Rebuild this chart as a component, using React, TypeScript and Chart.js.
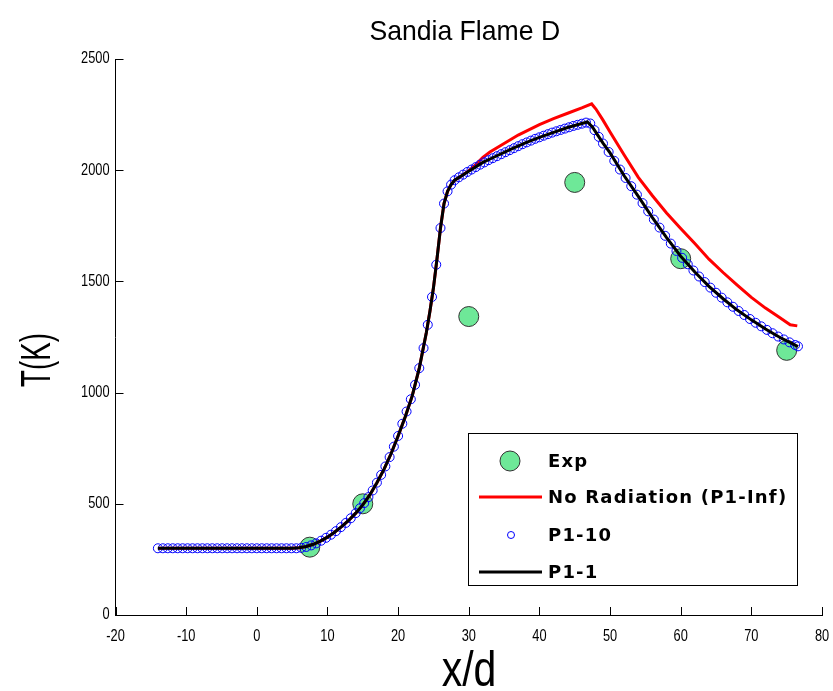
import React, { useEffect, useRef } from 'react';
import { Chart, registerables } from 'chart.js';

Chart.register(...registerables);

const titleText = 'Sandia Flame D';
const xLabel = 'x/d';
const yLabel = 'T(K)';

const xTickValues = [-20, -10, 0, 10, 20, 30, 40, 50, 60, 70, 80];
const yTickValues = [0, 500, 1000, 1500, 2000, 2500];

const legendLabels = ['Exp', 'No Radiation (P1-Inf)', 'P1-10', 'P1-1'];

// Experimental data
const expX = [7.5, 15, 30, 45, 60, 75];
const expT = [305, 500, 1342, 1945, 1602, 1190];

// No radiation (P1-Inf)
const noRadX = [-14, -10, -5, 0, 5, 6, 7, 8, 9, 10, 11, 12, 13, 14, 15, 16, 17, 18, 19, 20, 21, 22, 23, 24, 24.5, 25, 25.5, 26, 26.5, 27, 27.5, 28, 29, 30, 31, 32, 33, 35, 37, 40, 42, 44, 46, 47.4, 48, 49, 50, 52, 54, 56, 58, 60, 62, 64, 66, 68, 70, 72, 74, 75.5, 76.5];
const noRadT = [300, 300, 300, 300, 300, 302, 308, 318, 332, 350, 372, 397, 425, 458, 495, 540, 595, 655, 725, 805, 890, 985, 1110, 1270, 1365, 1470, 1600, 1740, 1850, 1905, 1935, 1955, 1975, 1998, 2025, 2058, 2082, 2120, 2158, 2205, 2232, 2256, 2280, 2298, 2275, 2225, 2172, 2068, 1968, 1885, 1808, 1738, 1670, 1600, 1540, 1483, 1428, 1380, 1338, 1305, 1300];

// P1-10 (markers)
const p110X = [-14, -13.3, -12.6, -11.9, -11.2, -10.5, -9.8, -9.1, -8.4, -7.7, -7, -6.3, -5.6, -4.9, -4.2, -3.5, -2.8, -2.1, -1.4, -0.7, 0, 0.7, 1.4, 2.1, 2.8, 3.5, 4.2, 4.9, 5.6,
  6.3, 7, 7.7, 8.4, 9.1, 9.8, 10.5, 11.2, 11.9, 12.6, 13.3, 14, 14.6, 15.2, 15.8, 16.4, 17, 17.6, 18.2, 18.8, 19.4, 20, 20.6, 21.2, 21.8, 22.4, 23, 23.6, 24.2, 24.8, 25.4, 26, 26.5, 27, 27.5, 28, 28.6, 29.2, 29.8,
  30.4, 31, 31.6, 32.2, 32.8, 33.4, 34, 34.6, 35.2, 35.8, 36.4, 37, 37.6, 38.2, 38.8, 39.4, 40, 40.6, 41.2, 41.8, 42.4, 43, 43.6, 44.2, 44.8, 45.4, 46, 46.6, 47.2,
  47.8, 48.4, 49, 49.8, 50.6, 51.4, 52.2, 53, 53.8, 54.6, 55.4, 56.2, 57, 57.8, 58.6, 59.4, 60.2, 61, 61.8, 62.6, 63.4, 64.2, 65, 65.8, 66.6, 67.4, 68.2, 69, 69.8, 70.6, 71.4, 72.2, 73, 73.8, 74.6, 75.4, 76.2, 76.6];
const p110T = [300, 300, 300, 300, 300, 300, 300, 300, 300, 300, 300, 300, 300, 300, 300, 300, 300, 300, 300, 300, 300, 300, 300, 300, 300, 300, 300, 300, 300,
  302, 306, 313, 322, 334, 347, 361, 377, 395, 414, 435, 458, 480, 503, 530, 560, 595, 630, 668, 710, 757, 805, 860, 915, 970, 1035, 1110, 1200, 1305, 1430, 1575, 1740, 1850, 1905, 1935, 1955, 1968, 1980, 1992,
  2003, 2014, 2025, 2035, 2045, 2054, 2063, 2072, 2081, 2090, 2099, 2108, 2117, 2125, 2133, 2141, 2148, 2155, 2162, 2169, 2175, 2181, 2187, 2193, 2199, 2204, 2209, 2214, 2210,
  2180, 2150, 2120, 2082, 2042, 2003, 1965, 1928, 1890, 1852, 1815, 1778, 1742, 1705, 1670, 1637, 1606, 1577, 1549, 1522, 1497, 1472, 1449, 1427, 1406, 1386, 1367, 1349, 1331, 1314, 1298, 1282, 1267, 1252, 1239, 1226, 1214, 1208];

// P1-1 (line)
const p11X = [-14, -10, -5, 0, 5, 6, 7, 8, 9, 10, 11, 12, 13, 14, 15, 16, 17, 18, 19, 20, 21, 22, 23, 24, 24.5, 25, 25.5, 26, 26.5, 27, 27.5, 28, 29, 30, 32, 34, 36, 38, 40, 42, 44, 46, 46.8, 47.5, 48, 49, 50, 52, 54, 56, 58, 60, 62, 64, 66, 68, 70, 72, 74, 76, 76.6];
const p11T = [300, 300, 300, 300, 300, 302, 308, 318, 332, 350, 372, 397, 425, 458, 495, 540, 595, 655, 725, 805, 890, 985, 1110, 1270, 1365, 1470, 1600, 1740, 1850, 1905, 1935, 1955, 1975, 1995, 2035, 2065, 2095, 2123, 2148, 2170, 2192, 2210, 2217, 2195, 2170, 2122, 2078, 1975, 1882, 1787, 1697, 1613, 1542, 1478, 1422, 1371, 1327, 1286, 1249, 1217, 1207];

const toPts = (xs: number[], ys: number[]) => xs.map((x, i) => ({ x, y: ys[i] }));

const baseFont = "'Liberation Sans', Arial, sans-serif";
const GREEN = '#6ee898';

// draw text horizontally compressed (to mimic the narrow plot font)
function narrowText(ctx: CanvasRenderingContext2D, text: string, x: number, y: number, sx: number) {
  ctx.save();
  ctx.translate(x, y);
  ctx.scale(sx, 1);
  ctx.fillText(text, 0, 0);
  ctx.restore();
}

const decorPlugin = {
  id: 'decor',
  afterDraw(chart: any) {
    const ctx = chart.ctx as CanvasRenderingContext2D;
    const { left, right, top, bottom } = chart.chartArea;
    const xs = chart.scales.x;
    const ys = chart.scales.y;
    ctx.save();
    // inward tick marks
    ctx.strokeStyle = '#000';
    ctx.lineWidth = 1;
    ctx.beginPath();
    xs.ticks.forEach((t: any) => {
      const px = Math.round(xs.getPixelForValue(t.value)) + 0.5;
      ctx.moveTo(px, bottom);
      ctx.lineTo(px, bottom - 8);
    });
    ys.ticks.forEach((t: any) => {
      const py = Math.round(ys.getPixelForValue(t.value)) + 0.5;
      ctx.moveTo(left, py);
      ctx.lineTo(left + 8, py);
    });
    ctx.stroke();

    // tick labels (narrow)
    ctx.fillStyle = '#000';
    ctx.font = `16px ${baseFont}`;
    ctx.textBaseline = 'middle';
    ctx.textAlign = 'center';
    xs.ticks.forEach((t: any) => {
      narrowText(ctx, String(t.value), xs.getPixelForValue(t.value), bottom + 22, 0.8);
    });
    ctx.textAlign = 'right';
    ys.ticks.forEach((t: any) => {
      narrowText(ctx, String(t.value), left - 6, ys.getPixelForValue(t.value), 0.8);
    });

    // title
    ctx.textAlign = 'center';
    ctx.textBaseline = 'alphabetic';
    ctx.font = `28px ${baseFont}`;
    narrowText(ctx, titleText, (left + right) / 2 - 4, 40, 0.95);

    // x label
    ctx.font = `50px ${baseFont}`;
    narrowText(ctx, xLabel, 469, 686, 0.82);

    // y label
    ctx.save();
    ctx.translate(50, 360);
    ctx.rotate(-Math.PI / 2);
    ctx.font = `42px ${baseFont}`;
    narrowText(ctx, yLabel, 0, 0, 0.66);
    ctx.restore();

    // legend
    const bx = 468, by = 433, bw = 329, bh = 152;
    ctx.fillStyle = '#fff';
    ctx.fillRect(bx, by, bw, bh);
    ctx.strokeStyle = '#000';
    ctx.lineWidth = 1;
    ctx.strokeRect(bx + 0.5, by + 0.5, bw, bh);
    const rows = [461, 497, 535, 572];
    const sx = 510;
    ctx.beginPath();
    ctx.arc(sx, rows[0], 10, 0, Math.PI * 2);
    ctx.fillStyle = GREEN;
    ctx.fill();
    ctx.strokeStyle = '#333';
    ctx.lineWidth = 1;
    ctx.stroke();
    ctx.beginPath();
    ctx.moveTo(479, rows[1]);
    ctx.lineTo(542, rows[1]);
    ctx.strokeStyle = '#ff0000';
    ctx.lineWidth = 3;
    ctx.stroke();
    ctx.beginPath();
    ctx.arc(sx + 1, rows[2], 3.5, 0, Math.PI * 2);
    ctx.strokeStyle = '#0000ff';
    ctx.lineWidth = 1;
    ctx.stroke();
    ctx.beginPath();
    ctx.moveTo(479, rows[3]);
    ctx.lineTo(542, rows[3]);
    ctx.strokeStyle = '#000';
    ctx.lineWidth = 3;
    ctx.stroke();

    ctx.fillStyle = '#000';
    ctx.textAlign = 'left';
    ctx.textBaseline = 'middle';
    ctx.font = "bold 18px 'DejaVu Sans', sans-serif";
    (ctx as any).letterSpacing = '1.2px';
    legendLabels.forEach((lab, i) => ctx.fillText(lab, 548, rows[i] + 1));
    (ctx as any).letterSpacing = '0px';
    ctx.restore();
  },
};

export default function App() {
  const ref = useRef<HTMLCanvasElement | null>(null);
  useEffect(() => {
    if (!ref.current) return;
    const chart = new Chart(ref.current, {
      type: 'scatter',
      data: {
        datasets: [
          {
            label: legendLabels[0],
            data: toPts(expX, expT),
            pointRadius: 10,
            pointBackgroundColor: GREEN,
            pointBorderColor: '#333',
            pointBorderWidth: 1,
            showLine: false,
            order: 4,
          },
          {
            label: legendLabels[1],
            data: toPts(noRadX, noRadT),
            showLine: true,
            borderColor: '#ff0000',
            borderWidth: 3,
            pointRadius: 0,
            tension: 0,
            order: 3,
          },
          {
            label: legendLabels[2],
            data: toPts(p110X, p110T),
            showLine: false,
            pointRadius: 4.5,
            pointBorderColor: '#0000ff',
            pointBackgroundColor: 'rgba(0,0,0,0)',
            pointBorderWidth: 1,
            order: 2,
          },
          {
            label: legendLabels[3],
            data: toPts(p11X, p11T),
            showLine: true,
            borderColor: '#000',
            borderWidth: 3,
            pointRadius: 0,
            tension: 0,
            order: 1,
          },
        ],
      },
      options: {
        responsive: false,
        animation: false,
        events: [],
        layout: { padding: { top: 59, right: 11, left: 0, bottom: 0 } },
        plugins: { legend: { display: false }, title: { display: false }, tooltip: { enabled: false } },
        scales: {
          x: {
            type: 'linear',
            min: -20,
            max: 80,
            afterBuildTicks: (s: any) => { s.ticks = xTickValues.map((v) => ({ value: v })); },
            afterFit: (s: any) => { s.height = 76; },
            grid: { display: false },
            border: { display: true, color: '#000', width: 1 },
            ticks: { display: false },
          },
          y: {
            type: 'linear',
            min: 0,
            max: 2500,
            afterBuildTicks: (s: any) => { s.ticks = yTickValues.map((v) => ({ value: v })); },
            afterFit: (s: any) => { s.width = 115.5; },
            grid: { display: false },
            border: { display: true, color: '#000', width: 1 },
            ticks: { display: false },
          },
        },
      },
      plugins: [decorPlugin],
    });
    return () => chart.destroy();
  }, []);
  return (
    <div style={{ position: 'absolute', left: 0, top: 0, width: 833, height: 691, background: '#fff' }}>
      <canvas ref={ref} width={833} height={691} style={{ display: 'block' }} />
    </div>
  );
}
